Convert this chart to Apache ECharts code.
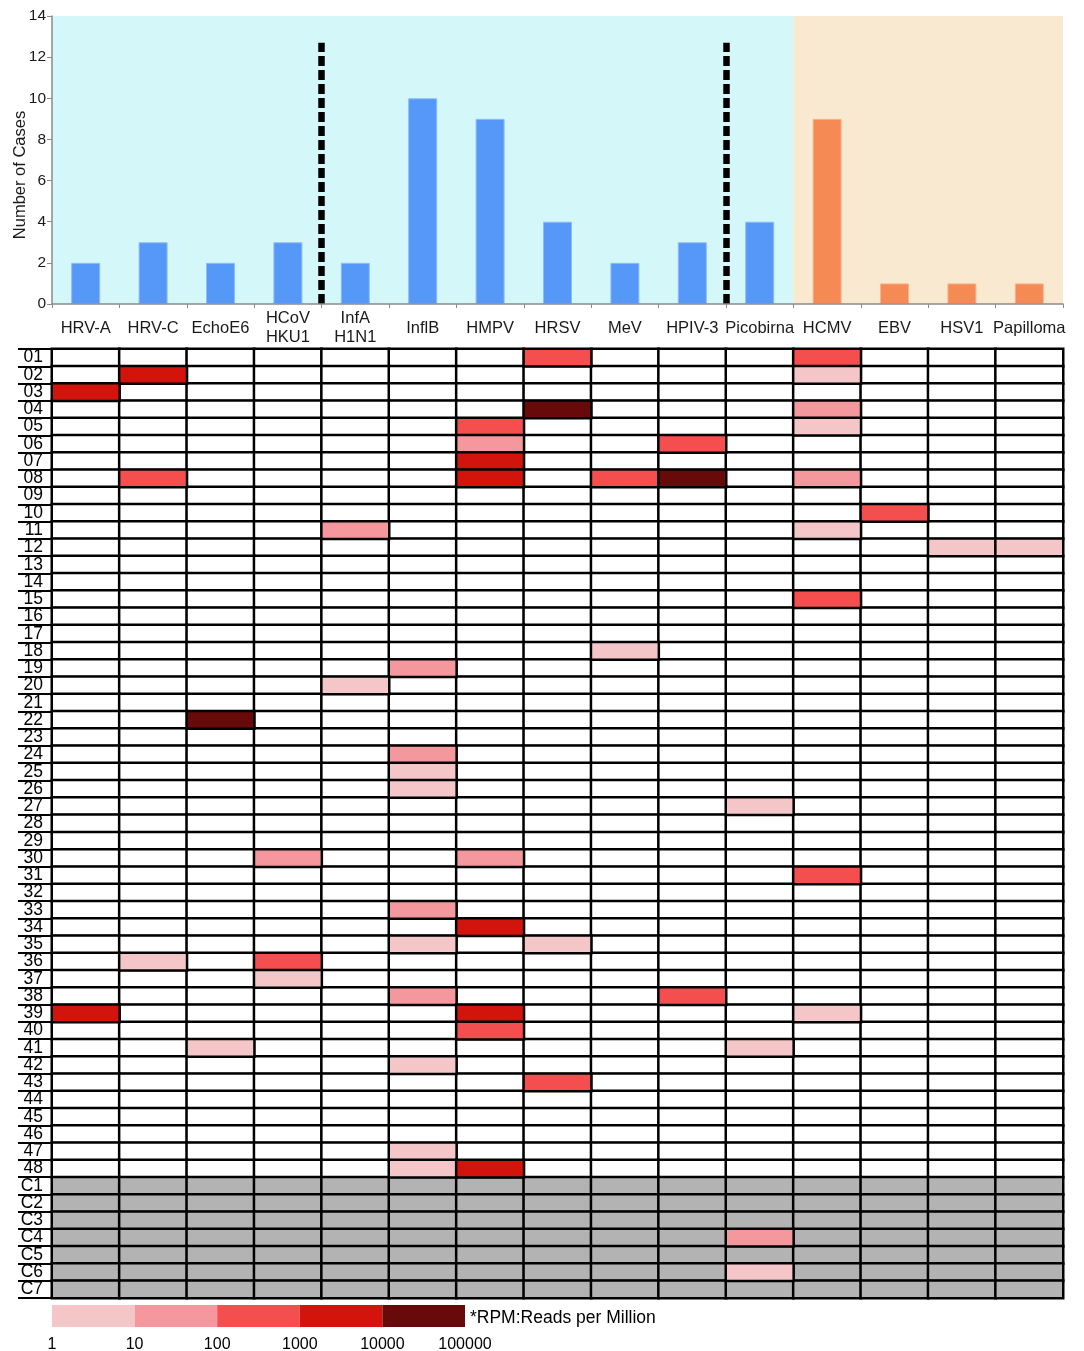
<!DOCTYPE html>
<html>
<head>
<meta charset="utf-8">
<script src="https://cdn.jsdelivr.net/npm/echarts@6/dist/echarts.min.js"></script>
<style>
  html, body { margin: 0; padding: 0; background: #fff; }
  #chart { width: 1084px; height: 1351px; }
</style>
</head>
<body>
<div id="chart"></div>
<script>
// virus names (x categories), RNA viruses first
const viruses = ['HRV-A', 'HRV-C', 'EchoE6', 'HCoV\nHKU1', 'InfA\nH1N1', 'InflB', 'HMPV', 'HRSV', 'MeV', 'HPIV-3', 'Picobirna', 'HCMV', 'EBV', 'HSV1', 'Papilloma'];
const caseCounts = [2, 3, 2, 3, 2, 10, 9, 4, 2, 3, 4, 9, 1, 1, 1];
const rnaCount = 11;

// samples (heatmap rows), C* are controls
const samples = ['01', '02', '03', '04', '05', '06', '07', '08', '09', '10',
  '11', '12', '13', '14', '15', '16', '17', '18', '19', '20',
  '21', '22', '23', '24', '25', '26', '27', '28', '29', '30',
  '31', '32', '33', '34', '35', '36', '37', '38', '39', '40',
  '41', '42', '43', '44', '45', '46', '47', '48',
  'C1', 'C2', 'C3', 'C4', 'C5', 'C6', 'C7'];

// [sample, virus index, RPM level 1..5 (1-10, 10-100, ... 10000-100000)]
const detections = [
  ['01', 7, 3], ['01', 11, 3],
  ['02', 1, 4], ['02', 11, 1],
  ['03', 0, 4],
  ['04', 7, 5], ['04', 11, 2],
  ['05', 6, 3], ['05', 11, 1],
  ['06', 6, 2], ['06', 9, 3],
  ['07', 6, 4],
  ['08', 1, 3], ['08', 6, 4], ['08', 8, 3], ['08', 9, 5], ['08', 11, 2],
  ['10', 12, 3],
  ['11', 4, 2], ['11', 11, 1],
  ['12', 13, 1], ['12', 14, 1],
  ['15', 11, 3],
  ['18', 8, 1],
  ['19', 5, 2],
  ['20', 4, 1],
  ['22', 2, 5],
  ['24', 5, 2],
  ['25', 5, 1],
  ['26', 5, 1],
  ['27', 10, 1],
  ['30', 3, 2], ['30', 6, 2],
  ['31', 11, 3],
  ['33', 5, 2],
  ['34', 6, 4],
  ['35', 5, 1], ['35', 7, 1],
  ['36', 1, 1], ['36', 3, 3],
  ['37', 3, 1],
  ['38', 5, 2], ['38', 9, 3],
  ['39', 0, 4], ['39', 6, 4], ['39', 11, 1],
  ['40', 6, 3],
  ['41', 2, 1], ['41', 10, 1],
  ['42', 5, 1],
  ['43', 7, 3],
  ['47', 5, 1],
  ['48', 5, 1], ['48', 6, 4],
  ['C4', 10, 2],
  ['C6', 10, 1]
];

const rpmTicks = ['1', '10', '100', '1000', '10000', '100000'];

const levelColors = ['#f5c6c8', '#f4989e', '#f54e4f', '#d3140c', '#690a0a'];
const FONT = 'Liberation Sans, Arial, sans-serif';

// build heatmap cells: -1 empty control, 0 empty sample, 1..5 detected level
let emptyCells = [];
let hitCells = [];
const hitMap = {};
detections.forEach(d => { hitMap[d[0] + '_' + d[1]] = d[2]; });
samples.forEach((s, r) => {
  viruses.forEach((v, c) => {
    const lv = hitMap[s + '_' + c];
    if (lv) hitCells.push([c, r, lv]);
    else emptyCells.push([c, r, s[0] === 'C' ? -1 : 0]);
  });
});

let chart = echarts.init(document.getElementById('chart'));

let legendSeries = levelColors.map((col, i) => ({
  type: 'bar',
  xAxisIndex: 3,
  yAxisIndex: 2,
  stack: 'rpm',
  barWidth: 22,
  silent: true,
  itemStyle: { color: col },
  data: [1]
}));

let option = {
  animation: false,
  textStyle: { fontFamily: FONT },
  grid: [
    { left: 52, right: 21, top: 16, height: 288, outerBoundsMode: 'none' },
    { left: 52, right: 21, top: 349, height: 949, outerBoundsMode: 'none' },
    { left: 52, width: 413, top: 1305, height: 22, outerBoundsMode: 'none' }
  ],
  xAxis: [
    {
      type: 'category',
      gridIndex: 0,
      data: viruses,
      z: 5,
      axisLine: { lineStyle: { color: '#8a8a8a', width: 1.5 } },
      axisTick: { show: true, length: 4, lineStyle: { color: '#8a8a8a' } },
      axisLabel: { interval: 0, color: '#1a1a1a', fontSize: 16.5, margin: 24, lineHeight: 19, verticalAlign: 'middle' }
    },
    { type: 'value', gridIndex: 0, min: 0, max: 15, show: false },
    {
      type: 'category',
      gridIndex: 1,
      data: viruses,
      show: false
    },
    {
      type: 'value',
      gridIndex: 2,
      min: 0,
      max: 5,
      interval: 1,
      axisLine: { show: false },
      axisTick: { show: false },
      splitLine: { show: false },
      axisLabel: {
        color: '#000',
        fontSize: 16,
        margin: 10,
        formatter: v => rpmTicks[v]
      }
    }
  ],
  yAxis: [
    {
      type: 'value',
      gridIndex: 0,
      min: 0,
      max: 14,
      interval: 2,
      z: 5,
      name: 'Number of Cases',
      nameLocation: 'middle',
      nameGap: 23,
      nameMoveOverlap: false,
      nameTextStyle: { color: '#1a1a1a', fontSize: 16.5, padding: [0, 30, 0, 0] },
      axisLine: { show: true, lineStyle: { color: '#8a8a8a', width: 1.5 } },
      axisTick: { show: true, length: 5, lineStyle: { color: '#8a8a8a' } },
      axisLabel: { color: '#1a1a1a', fontSize: 15.5, margin: 6 },
      splitLine: { show: false }
    },
    {
      type: 'category',
      gridIndex: 1,
      data: samples,
      inverse: true,
      axisLine: { show: true, lineStyle: { color: '#000', width: 2 } },
      axisTick: { show: true, interval: 0, length: 34, lineStyle: { color: '#000', width: 2 } },
      axisLabel: {
        interval: 0,
        color: '#000',
        fontSize: 17.5,
        margin: 9,
        verticalAlign: 'middle',
        padding: [3, 0, 0, 0]
      }
    },
    { type: 'category', gridIndex: 2, data: ['RPM'], show: false }
  ],
  visualMap: {
    show: false,
    type: 'piecewise',
    seriesIndex: [2, 3],
    dimension: 2,
    pieces: [
      { value: -1, color: '#b3b3b3' },
      { value: 0, color: '#ffffff' },
      { value: 1, color: levelColors[0] },
      { value: 2, color: levelColors[1] },
      { value: 3, color: levelColors[2] },
      { value: 4, color: levelColors[3] },
      { value: 5, color: levelColors[4] }
    ]
  },
  graphic: [
    { type: 'text', left: 402 - 58, top: 15, style: { text: 'RNA virus', font: 'bold 22px ' + FONT, fill: '#000' } },
    { type: 'text', left: 928 - 58, top: 15, style: { text: 'DNA virus', font: 'bold 22px ' + FONT, fill: '#000' } },
    { type: 'text', left: 145, top: 75, style: { text: '(+) ssRNA', font: '16.5px ' + FONT, fill: '#111' } },
    { type: 'text', left: 489, top: 75, style: { text: '(-) ssRNA', font: '16.5px ' + FONT, fill: '#111' } },
    { type: 'text', left: 733, top: 75, style: { text: 'dsRNA', font: '16.5px ' + FONT, fill: '#111' } },
    { type: 'text', left: 470, top: 1309, style: { text: '*RPM:Reads per Million', font: '17.5px ' + FONT, fill: '#000' } }
  ],
  series: [
    {
      // background regions and dividers on the hidden value axis
      type: 'line',
      xAxisIndex: 1,
      yAxisIndex: 0,
      z: 1,
      silent: true,
      data: [],
      markArea: {
        silent: true,
        data: [
          [{ coord: [0, 0], itemStyle: { color: '#d4f7fa' } }, { coord: [rnaCount, 14] }],
          [{ coord: [rnaCount, 0], itemStyle: { color: '#f8e9d0' } }, { coord: [15, 14] }]
        ]
      },
      markLine: {
        silent: true,
        symbol: 'none',
        label: { show: false },
        lineStyle: { color: '#000', width: 6.5, type: [10, 4] },
        data: [
          [{ coord: [4, 0] }, { coord: [4, 12.7] }],
          [{ coord: [10, 0] }, { coord: [10, 12.7] }]
        ]
      }
    },
    {
      type: 'bar',
      xAxisIndex: 0,
      yAxisIndex: 0,
      z: 3,
      barWidth: 29,
      data: caseCounts.map((v, i) => ({
        value: v,
        itemStyle: i < rnaCount
          ? { color: '#5698f7', borderColor: '#8dbcf8', borderWidth: 1 }
          : { color: '#f58a55', borderColor: '#f7b48f', borderWidth: 1 }
      }))
    },
    {
      type: 'heatmap',
      xAxisIndex: 2,
      yAxisIndex: 1,
      silent: true,
      itemStyle: { borderColor: '#000', borderWidth: 2.5 },
      data: emptyCells
    },
    {
      type: 'heatmap',
      xAxisIndex: 2,
      yAxisIndex: 1,
      silent: true,
      itemStyle: { borderColor: '#000', borderWidth: 2.5 },
      data: hitCells
    }
  ].concat(legendSeries)
};

chart.setOption(option);
</script>
</body>
</html>
